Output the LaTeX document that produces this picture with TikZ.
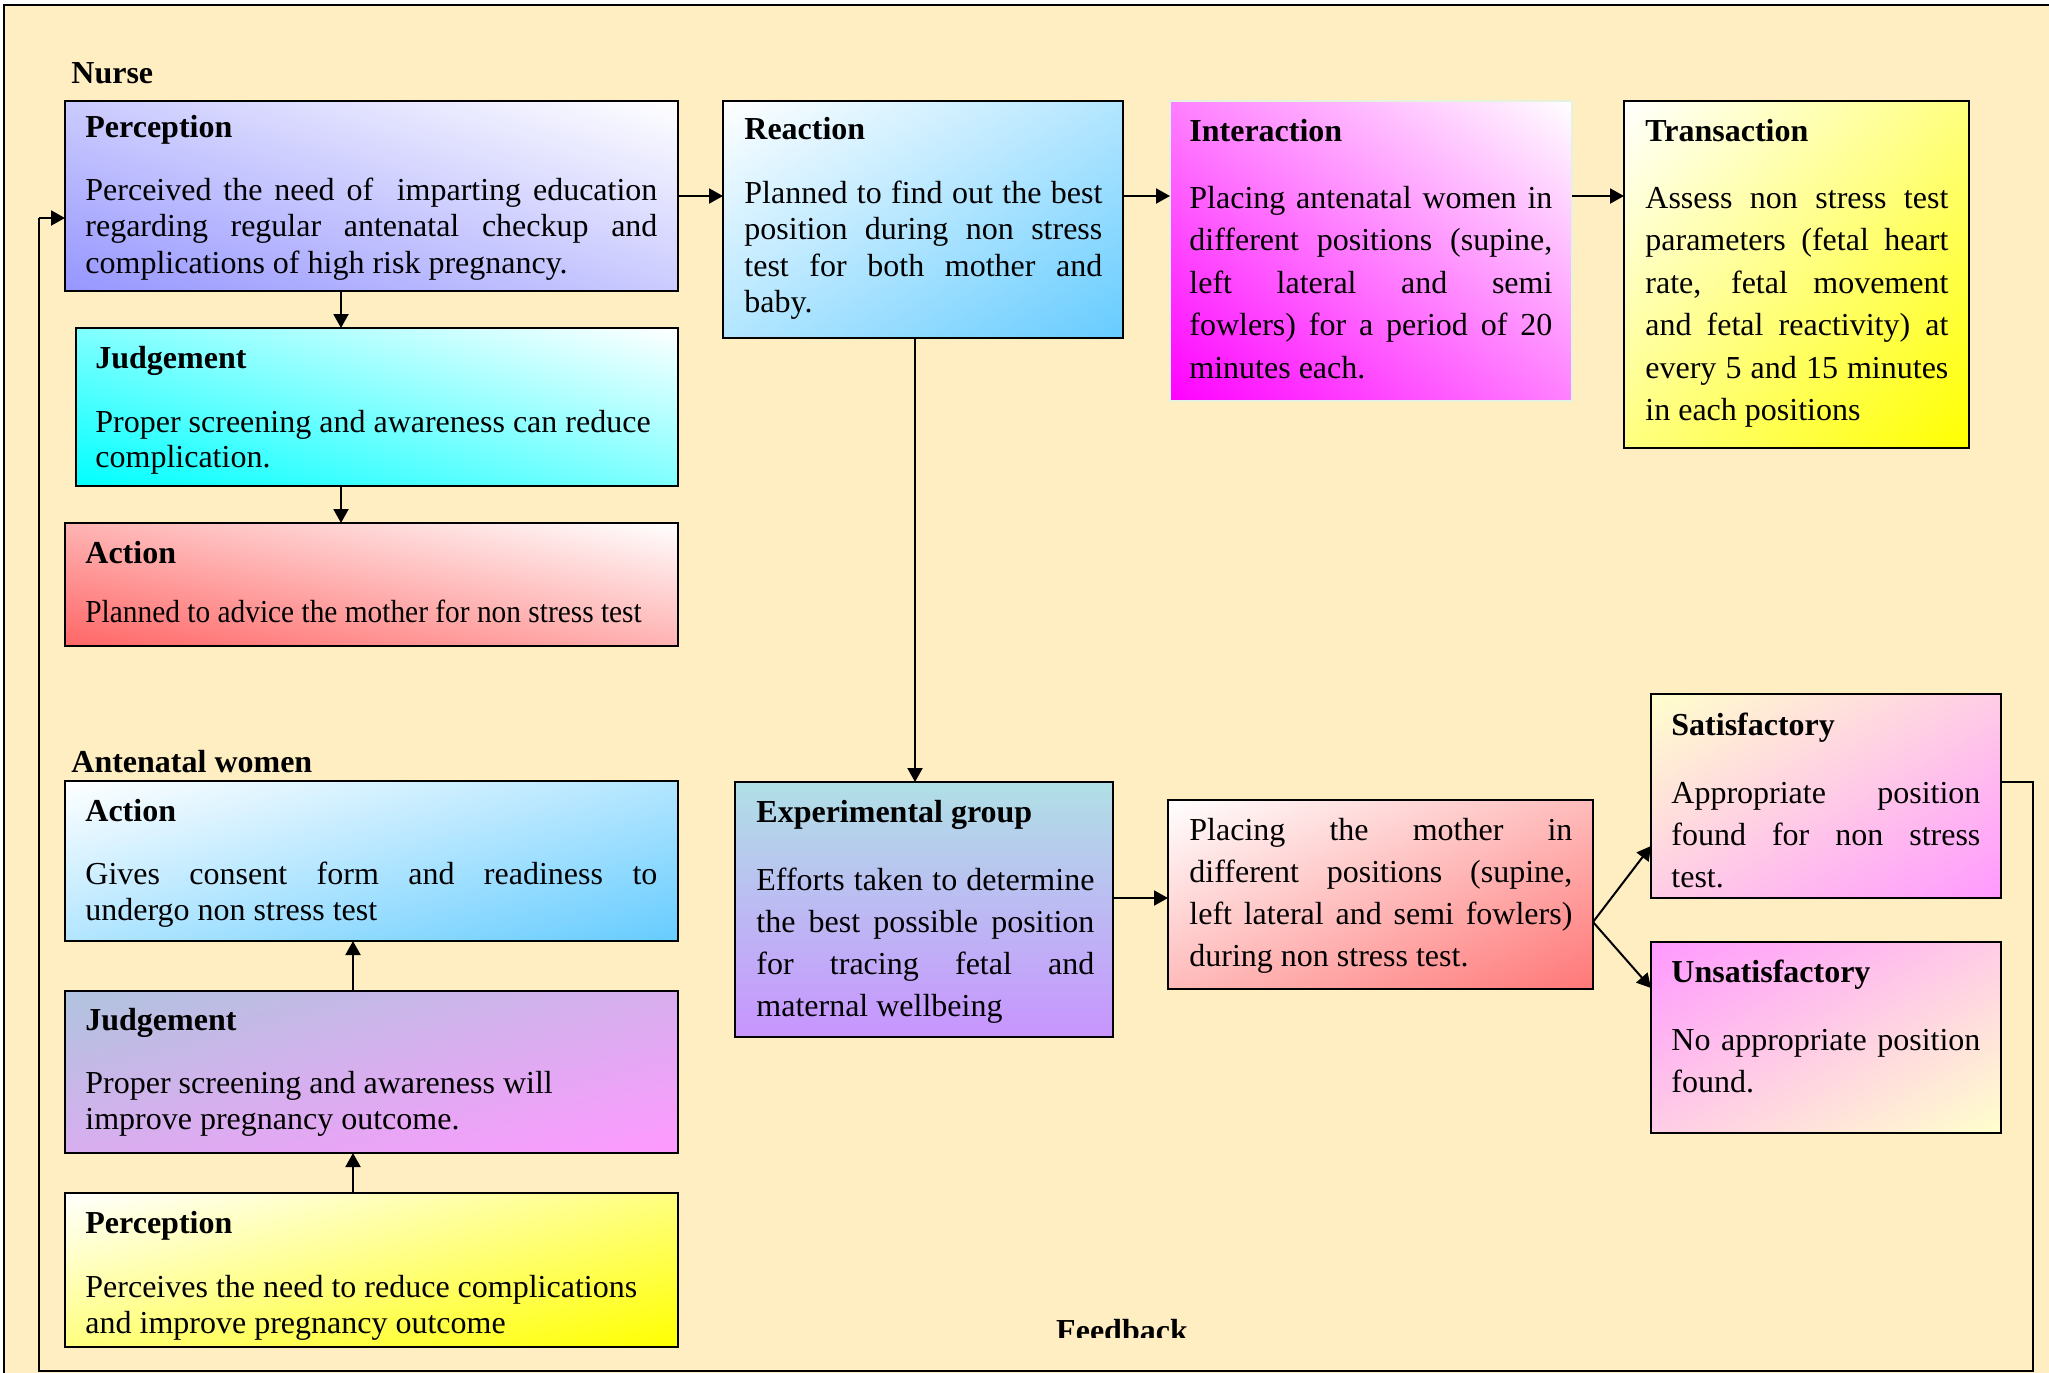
\documentclass[tikz,border=0pt]{standalone}
\usepackage{fontspec}
\setmainfont{Liberation Serif}
\usetikzlibrary{arrows.meta,fit,shadings}
\definecolor{bgc}{RGB}{255,238,194}
\definecolor{violetb}{RGB}{150,150,255}
\definecolor{cyanb}{RGB}{0,255,255}
\definecolor{redb}{RGB}{255,102,102}
\definecolor{skyb}{RGB}{102,204,255}
\definecolor{magb}{RGB}{255,0,255}
\definecolor{yelb}{RGB}{255,255,0}
\definecolor{pinkb}{RGB}{255,153,255}
\definecolor{creamb}{RGB}{255,255,204}
\definecolor{powb}{RGB}{176,224,230}
\definecolor{lavb}{RGB}{200,148,255}
\definecolor{steelb}{RGB}{176,196,222}
\definecolor{salb}{RGB}{255,119,119}
\definecolor{paleb}{RGB}{228,242,222}
\begin{document}
\begin{tikzpicture}[x=0.5pt,y=-0.5pt,
  box/.style={draw=black, line width=1.1pt, inner sep=0pt, outer sep=0pt},
  diagu/.style 2 args={lower left=#1, upper right=#2, upper left={#1!50!#2}, lower right={#1!50!#2}},
  diagd/.style 2 args={upper left=#1, lower right=#2, upper right={#1!50!#2}, lower left={#1!50!#2}},
  ttl/.style={anchor=base west, inner sep=0pt, font=\bfseries\fontsize{16}{19}\selectfont},
  lbl/.style={anchor=base west, inner sep=0pt, font=\bfseries\fontsize{16}{19}\selectfont},
  bdy/.style={anchor=base west, inner sep=0pt, align=justify, text width=#1},
  rag/.style={anchor=base west, inner sep=0pt, align=justify, text width=300pt},
  ls/.style={font=\fontsize{16}{#1}\selectfont},
  conn/.style={line width=1pt, -{Triangle[length=7pt,width=7.5pt]}},
  fline/.style={line width=1pt}
]
\clip (0,0) rectangle (2049,1372);
\fill[white] (0,0) rectangle (2049,1372);
\fill[bgc] (4,5) rectangle (2060,1380);
\draw[line width=1pt] (4,1380) -- (4,5) -- (2060,5);

% labels
\node[lbl] (nurse) at (71,83) {Nurse};
\node[lbl] (ante) at (71,772) {Antenatal women};

% Nurse boxes
\node[box, diagu={violetb}{white}, fit={(65,101) (678,291)}] (b1) {};
\node[ttl] (b1t) at (85,137) {Perception};
\node[bdy=286pt, ls=18.3pt] (b1b) at (85,200) {Perceived the need of\ \ imparting education\linebreak regarding regular antenatal checkup and\linebreak complications of high risk pregnancy.};

\node[box, diagu={cyanb}{white}, fit={(76,328) (678,486)}] (b2) {};
\node[ttl] (b2t) at (95,368) {Judgement};
\node[rag, ls=17.5pt] (b2b) at (95,432) {Proper screening and awareness can reduce\\complication.};

\node[box, diagu={redb}{white}, fit={(65,523) (678,646)}] (b3) {};
\node[ttl] (b3t) at (85,563) {Action};
\node[rag, ls=18pt] (b3b) at (85,622) {\scalebox{0.918}[1]{Planned to advice the mother for non stress test}};

\node[box, diagd={white}{skyb}, fit={(723,101) (1123,338)}] (b4) {};
\node[ttl] (b4t) at (744,139) {Reaction};
\node[bdy=179pt, ls=18.3pt] (b4b) at (744,203) {Planned to find out the best\linebreak position during non stress\linebreak test for both mother and\linebreak baby.};

\node[box, draw=paleb, diagu={magb}{white}, fit={(1170,101) (1572,401)}] (b5) {};
\node[ttl] (b5t) at (1189,141) {Interaction};
\node[bdy=181.5pt, ls=21.3pt] (b5b) at (1189,208) {Placing antenatal women in\linebreak different positions (supine,\linebreak left lateral and semi\linebreak fowlers) for a period of 20\linebreak minutes each.};

\node[box, diagd={white}{yelb}, fit={(1624,101) (1969,448)}] (b6) {};
\node[ttl] (b6t) at (1645,141) {Transaction};
\node[bdy=151.5pt, ls=21.25pt] (b6b) at (1645,208) {Assess non stress test\linebreak parameters (fetal heart\linebreak rate, fetal movement\linebreak and fetal reactivity) at\linebreak every 5 and 15 minutes\linebreak in each positions};

% Experimental group and outcomes
\node[box, top color=powb, bottom color=lavb, fit={(735,782) (1113,1037)}] (b9) {};
\node[ttl] (b9t) at (756,822) {Experimental group};
\node[bdy=169pt, ls=21.1pt] (b9b) at (756,890) {Efforts taken to determine\linebreak the best possible position\linebreak for tracing fetal and\linebreak maternal wellbeing};

\node[box, diagd={white}{salb}, fit={(1168,800) (1593,989)}] (b10) {};
\node[bdy=191.5pt, ls=21pt] (b10b) at (1189,840) {Placing the mother in\linebreak different positions (supine,\linebreak left lateral and semi fowlers)\linebreak during non stress test.};

\node[box, diagd={creamb}{pinkb}, fit={(1651,694) (2001,898)}] (b7) {};
\node[ttl] (b7t) at (1671,735) {Satisfactory};
\node[bdy=154.5pt, ls=21pt] (b7b) at (1671,803) {Appropriate position\linebreak found for non stress\linebreak test.};

\node[box, diagd={pinkb}{creamb}, fit={(1651,942) (2001,1133)}] (b8) {};
\node[ttl] (b8t) at (1671,982) {Unsatisfactory};
\node[bdy=154.5pt, ls=21pt] (b8b) at (1671,1050) {No appropriate position\linebreak found.};

% Antenatal women boxes
\node[box, diagd={white}{skyb}, fit={(65,781) (678,941)}] (b11) {};
\node[ttl] (b11t) at (85,821) {Action};
\node[bdy=286pt, ls=18pt] (b11b) at (85,884) {Gives consent form and readiness to\linebreak undergo non stress test};

\node[box, diagd={steelb}{pinkb}, fit={(65,991) (678,1153)}] (b12) {};
\node[ttl] (b12t) at (85,1030) {Judgement};
\node[rag, ls=18.3pt] (b12b) at (85,1093) {Proper screening and awareness will\\improve pregnancy outcome.};

\node[box, diagd={white}{yelb}, fit={(65,1193) (678,1347)}] (b13) {};
\node[ttl] (b13t) at (85,1233) {Perception};
\node[rag, ls=18pt] (b13b) at (85,1297) {Perceives the need to reduce complications\\and improve pregnancy outcome};

% feedback label (cut at the bottom, as printed)
\begin{scope}
\clip (1000,1290) rectangle (1250,1337);
\node[lbl, anchor=base] (fbl) at (1122,1341) {Feedback};
\end{scope}

% helper coordinates
\coordinate (xa) at (341,0);
\coordinate (xb) at (353,0);
\coordinate (xc) at (915,0);
\coordinate (yd) at (0,898);
\coordinate (ye) at (0,922);
\coordinate (yf) at (0,846);
\coordinate (yg) at (0,988);
\coordinate (fa) at (2033,782);
\coordinate (fb) at (2033,1371);
\coordinate (fc) at (39,1371);
\coordinate (fd) at (39,218);

% connectors
\draw[conn] (b1.east) -- (b1.east -| b4.west);
\draw[conn] (b4.east |- b1.east) -- (b5.west |- b1.east);
\draw[conn] (b5.east |- b1.east) -- (b6.west |- b1.east);
\draw[conn] (b1.south -| xa) -- (b2.north -| xa);
\draw[conn] (b2.south -| xa) -- (b3.north -| xa);
\draw[conn] (b4.south -| xc) -- (b9.north -| xc);
\draw[conn] (b13.north -| xb) -- (b12.south -| xb);
\draw[conn] (b12.north -| xb) -- (b11.south -| xb);
\draw[conn] (b9.east |- yd) -- (b10.west |- yd);
\draw[conn] (b10.east |- ye) -- (b7.west |- yf);
\draw[conn] (b10.east |- ye) -- (b8.west |- yg);
\draw[fline] (b7.east |- fa) -- (fa) -- (fb) -- (fc) -- (fd);
\draw[conn] (fd) -- (b1.west |- fd);
\end{tikzpicture}
\end{document}
